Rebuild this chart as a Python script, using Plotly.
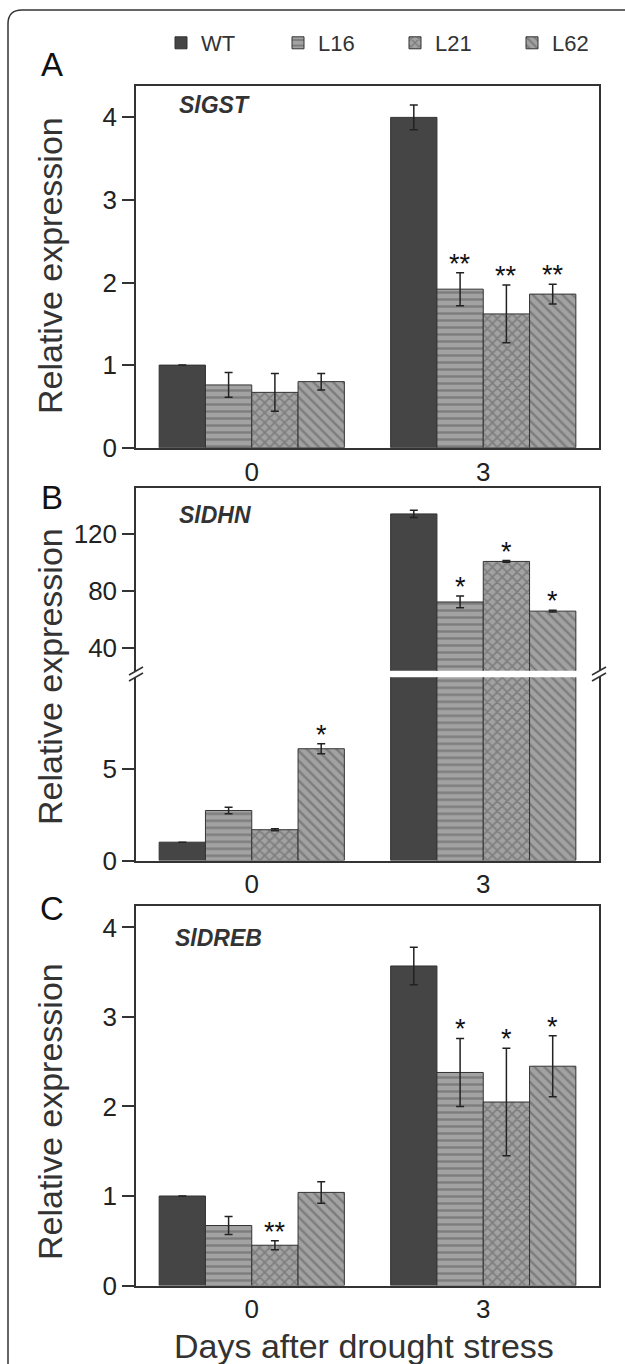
import plotly.graph_objects as go

W, H = 625, 1364

days = ["0", "3"]
lines = ["WT", "L16", "L21", "L62"]

# rows = lines (WT, L16, L21, L62), columns = days (0, 3)
gst_mean = [[1.00, 4.00], [0.76, 1.92], [0.67, 1.62], [0.80, 1.86]]
gst_err = [[0.00, 0.15], [0.15, 0.20], [0.23, 0.35], [0.10, 0.12]]
gst_sig = [["", ""], ["", "**"], ["", "**"], ["", "**"]]

dhn_mean = [[1.00, 133.9], [2.73, 72.4], [1.68, 100.7], [6.10, 66.0]]
dhn_err = [[0.00, 2.5], [0.18, 4.1], [0.05, 0.6], [0.27, 0.6]]
dhn_sig = [["", ""], ["", "*"], ["", "*"], ["*", "*"]]

dreb_mean = [[1.00, 3.57], [0.67, 2.38], [0.45, 2.05], [1.04, 2.45]]
dreb_err = [[0.00, 0.21], [0.10, 0.38], [0.05, 0.60], [0.12, 0.34]]
dreb_sig = [["", ""], ["", "*"], ["**", "*"], ["", "*"]]

gst_ticks = [0, 1, 2, 3, 4]
dhn_upper_ticks = [40, 80, 120]
dhn_lower_ticks = [0, 5]
dreb_ticks = [0, 1, 2, 3, 4]

FONT = "Liberation Sans, Arial, sans-serif"
INK = "#222222"
AX = "#333333"
fills = ["#454545", "#a2a2a2", "#a2a2a2", "#a2a2a2"]
shapes_pat = ["", "-", "x", "\\"]
solid = [0, 0.35, 0.42, 0.35]


def px(x):
    return x / W


def py(y):
    return 1 - y / H


xpos = [0, 1]
fig = go.Figure()


def add_bars(mean, err, xa, ya, legend):
    for k, name in enumerate(lines):
        marker = dict(color=fills[k], line=dict(color=AX, width=1))
        if shapes_pat[k]:
            marker["pattern"] = dict(shape=shapes_pat[k], fgcolor="#585858",
                                     bgcolor=fills[k], size=7, solidity=solid[k])
        fig.add_trace(go.Bar(
            x=xpos, y=mean[k], name=name, xaxis=xa, yaxis=ya,
            marker=marker, showlegend=legend, legendgroup=name,
            error_y=dict(type="data", array=err[k], visible=True,
                         color=INK, thickness=1.5, width=4),
        ))


add_bars(gst_mean, gst_err, "x", "y", True)
add_bars(dhn_mean, dhn_err, "x2", "y2", False)
add_bars(dhn_mean, dhn_err, "x3", "y3", False)
add_bars(dreb_mean, dreb_err, "x4", "y4", False)

xdom = [px(136), px(599)]
common_x = dict(domain=xdom, range=[-0.5, 1.5], tickvals=xpos, ticktext=days,
                ticks="", showline=True, linecolor=AX, linewidth=1.5,
                showgrid=False, zeroline=False,
                tickfont=dict(size=26, color=INK, family=FONT))
common_y = dict(ticks="outside", ticklen=12, tickwidth=1.5, tickcolor=AX,
                showline=True, mirror=True, linecolor=AX, linewidth=1.5,
                showgrid=False, zeroline=False,
                tickfont=dict(size=26, color=INK, family=FONT))

fig.update_layout(
    xaxis=dict(common_x, anchor="y", mirror=True),
    yaxis=dict(common_y, domain=[py(447.7), py(86)], range=[0, 4.38],
               tickvals=gst_ticks, anchor="x"),
    xaxis2=dict(common_x, anchor="y2", side="top", mirror=False,
                showticklabels=False),
    yaxis2=dict(common_y, domain=[py(670.7), py(488)], range=[24.4, 152],
                tickvals=dhn_upper_ticks, anchor="x2"),
    xaxis3=dict(common_x, anchor="y3", mirror=False),
    yaxis3=dict(common_y, domain=[py(860.5), py(677.3)], range=[0, 10],
                tickvals=dhn_lower_ticks, anchor="x3"),
    xaxis4=dict(common_x, anchor="y4", mirror=True),
    yaxis4=dict(common_y, domain=[py(1285.5), py(906)], range=[0, 4.24],
                tickvals=dreb_ticks, anchor="x4"),
)

ann = []


def add_sig(mean, err, sig, pick):
    for k in range(4):
        for g in range(2):
            s = sig[k][g]
            if not s:
                continue
            top = mean[k][g] + err[k][g]
            xa, ya = pick(top)
            ann.append(dict(x=xpos[g] + (k - 1.5) * 0.2, y=top,
                            xref=xa, yref=ya, text=s,
                            showarrow=False, yanchor="middle", yshift=9,
                            font=dict(size=27, color="#111111", family=FONT)))


add_sig(gst_mean, gst_err, gst_sig, lambda v: ("x", "y"))
add_sig(dhn_mean, dhn_err, dhn_sig,
        lambda v: ("x2", "y2") if v > 24.4 else ("x3", "y3"))
add_sig(dreb_mean, dreb_err, dreb_sig, lambda v: ("x4", "y4"))

# gene names
for txt, yy, xx in [("SlGST", 105, 177), ("SlDHN", 515, 177), ("SlDREB", 938, 173)]:
    ann.append(dict(x=px(xx), y=py(yy), xref="paper", yref="paper",
                    text="<b><i>%s</i></b>" % txt,
                    showarrow=False, xanchor="left", yanchor="middle",
                    font=dict(size=23, color="#333333", family=FONT)))

# panel letters
for txt, yy in [("A", 65), ("B", 497), ("C", 908)]:
    ann.append(dict(x=px(52), y=py(yy), xref="paper", yref="paper", text=txt,
                    showarrow=False, xanchor="center", yanchor="middle",
                    font=dict(size=33, color="#111111", family=FONT)))

# y titles
for yy in [266, 677, 1112]:
    ann.append(dict(x=px(50), y=py(yy), xref="paper", yref="paper",
                    text="Relative expression", textangle=-90, showarrow=False,
                    xanchor="center", yanchor="middle",
                    font=dict(size=34, color="#333333", family=FONT)))

# x title
ann.append(dict(x=px(364), y=py(1346), xref="paper", yref="paper",
                text="Days after drought stress", showarrow=False,
                xanchor="center", yanchor="middle",
                font=dict(size=34, color="#333333", family=FONT)))

shp = []
# axis-break marks (panel B)
for bx in [136, 599]:
    for dy in [-3, 3]:
        cy = 674 + dy
        shp.append(dict(type="line", xref="paper", yref="paper",
                        x0=px(bx - 7), y0=py(cy + 4), x1=px(bx + 7), y1=py(cy - 4),
                        line=dict(color=AX, width=1.5)))
# outer rounded frame (top-left corner visible)
r = 14
x0, y0 = 8, 10
path = "M %f,%f L %f,%f Q %f,%f %f,%f L %f,%f" % (
    px(x0), py(H + 20), px(x0), py(y0 + r), px(x0), py(y0), px(x0 + r), py(y0),
    px(W + 20), py(y0))
shp.append(dict(type="path", xref="paper", yref="paper", path=path,
                line=dict(color=AX, width=1.5)))

fig.update_layout(
    width=W, height=H, margin=dict(l=0, r=0, t=0, b=0, autoexpand=False),
    paper_bgcolor="white", plot_bgcolor="white",
    barmode="group", bargap=0.2, bargroupgap=0,
    annotations=ann, shapes=shp,
    font=dict(family=FONT, color=INK),
    legend=dict(orientation="h", x=px(161), xanchor="left", y=py(43),
                yanchor="middle", entrywidth=72, entrywidthmode="pixels",
                font=dict(size=22, color="#333333", family=FONT),
                bgcolor="rgba(0,0,0,0)", itemwidth=30),
)

fig.write_html("out.html")
